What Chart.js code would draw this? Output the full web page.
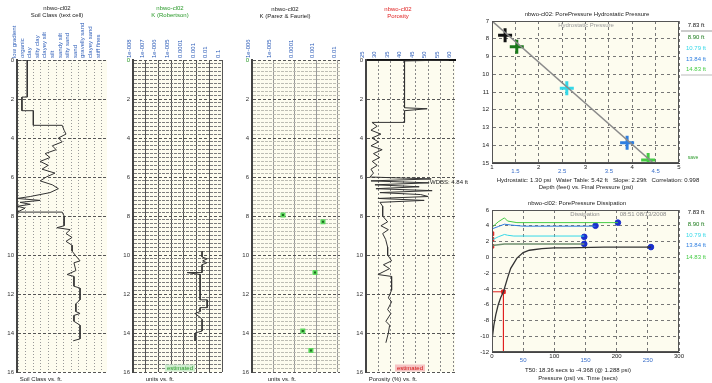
<!DOCTYPE html>
<html>
<head>
<meta charset="utf-8">
<script src="https://cdn.jsdelivr.net/npm/chart.js@4.4.1/dist/chart.umd.min.js"></script>
<style>
  body { margin: 0; background: #fff; width: 712px; height: 383px; overflow: hidden; position: relative; }
  canvas { position: absolute; }
</style>
</head>
<body>
<canvas id="soil" width="118" height="383" style="left:0;top:0"></canvas>
<canvas id="kRob" width="115" height="383" style="left:118px;top:0"></canvas>
<canvas id="kPar" width="120" height="383" style="left:233px;top:0"></canvas>
<canvas id="poro" width="130" height="383" style="left:353px;top:0"></canvas>
<canvas id="hydro" width="237" height="195" style="left:475px;top:0"></canvas>
<canvas id="diss" width="237" height="188" style="left:475px;top:195px"></canvas>
<script>
// ---- data ----
const depthTicks = [0, 2, 4, 6, 8, 10, 12, 14, 16];

const soilClasses = ['low gradient', 'organic', 'clay', 'silty clay', 'clayey silt', 'silt',
  'sandy silt', 'silty sand', 'sand', 'gravelly sand', 'clayey sand', 'stiff fines'];
const soilDepth = [0, 0, 1.9, 1.9, 2.6, 2.6, 3.35, 3.35, 3.6, 3.8, 4.0, 4.2, 4.4, 4.6, 4.8, 5.0, 5.2, 5.4, 5.6, 5.8,
  6.0, 6.2, 6.4, 6.6, 6.8, 7.0, 7.1, 7.2, 7.3, 7.4, 7.5, 7.6, 7.8, 7.8, 8.0, 8.5, 8.6, 8.7, 8.9, 9.1,
  9.3, 9.5, 9.8, 10.0, 10.3, 10.4, 10.8, 11.0, 11.1, 11.6, 11.7, 12.3, 12.5, 12.9, 13.0, 13.1, 13.4, 13.6, 14.3, 14.4];
const soilClass = [-0.1, 1.2, 1.2, 0.5, 0.5, 2.0, 2.0, 5.8, 6.05, 6.3, 5.3, 5.8, 4.5, 5.0, 3.55, 4.2, 2.9, 3.95, 3.15, 4.85,
  3.7, 2.9, 4.5, 5.3, 4.2, 1.6, -0.1, 2.9, 0.25, 1.6, -0.1, 0.9, -0.1, 5.8, 6.05, 6.05, 5.1, 6.85, 6.3, 7.1,
  6.3, 7.1, 7.1, 7.5, 8.15, 7.35, 7.6, 6.45, 7.35, 7.35, 8.15, 8.15, 7.6, 7.6, 8.15, 7.35, 7.35, 8.15, 8.15, 7.25];

const kRobTicks = [1e-8, 1e-7, 1e-6, 1e-5, 1e-4, 1e-3, 1e-2, 1e-1];
const kRobLabels = ['1e-008', '1e-007', '1e-006', '1e-005', '0.0001', '0.001', '0.01', '0.1'];
const kRobDepth = [9.8, 10.1, 10.2, 10.3, 10.4, 10.5, 10.9, 10.9, 11.0, 12.3, 12.3, 12.7, 12.7, 12.9, 13.0, 13.2, 13.3, 13.9, 14.0, 14.4];
const kRobValue = [2.7e-3, 2.7e-3, 6.8e-3, 3.0e-3, 6.5e-3, 2.7e-3, 2.7e-3, 1.8e-4, 1.9e-3, 1.9e-3, 6.8e-3, 6.8e-3, 1.9e-3, 1.9e-3,
  7.6e-4, 1.9e-3, 2.7e-3, 2.7e-3, 7.6e-4, 7.6e-4];

const kParTicks = [1e-6, 1e-5, 1e-4, 1e-3, 1e-2];
const kParLabels = ['1e-006', '1e-005', '0.0001', '0.001', '0.01'];
const kParDepth = [7.95, 8.3, 10.9, 13.9, 14.9];
const kParValue = [2.75e-5, 2.0e-3, 8.5e-4, 2.3e-4, 5.5e-4];

const poroTicks = [25, 30, 35, 40, 45, 50, 55, 60];
const poroDepth = [0, 0, 0.05, 2.45, 2.5, 2.6, 3.2, 3.2, 3.4, 3.6, 3.8, 4.0, 4.2, 4.4, 4.6, 4.8, 5.0, 5.2,
  5.4, 5.6, 5.8, 6.0, 6.1, 6.2, 6.3, 6.4, 6.5, 6.6, 6.7, 6.8, 6.9, 7.0, 7.1, 7.2, 7.3, 7.5, 8.0, 8.3,
  8.5, 8.7, 8.9, 9.2, 9.6, 10.0, 10.3, 10.5, 10.7, 11.0, 11.1, 11.8, 12.2, 12.4, 12.8, 13.0, 13.4, 13.6, 14.0, 14.5];
const poroValue = [25.3, 58.3, 40.5, 40.5, 49.6, 40.5, 40.5, 27.4, 29.5, 27.0, 31.0, 27.4, 30.0, 27.0, 31.5, 28.0, 30.5, 27.5,
  29.5, 27.0, 28.0, 26.6, 51.2, 27.0, 50.4, 28.6, 46.4, 29.0, 51.6, 30.6, 47.0, 50.0, 29.8, 48.4, 30.6, 31.7, 31.7, 33.7,
  31.0, 34.0, 31.7, 32.9, 33.7, 33.7, 35.3, 32.0, 34.5, 29.8, 35.3, 35.3, 34.0, 35.3, 33.7, 35.0, 33.0, 34.5, 34.0, 33.0];

const probeLabels = ['7.83 ft', '8.90 ft', '10.79 ft', '13.84 ft', '14.83 ft'];
const probeColors = ['#111111', '#1a7a1a', '#35d8e8', '#2f7fe0', '#45cc45'];
const hydroPressure = [1.28, 1.53, 2.6, 3.89, 4.34];
const hydroDepth = [7.8, 8.45, 10.79, 13.86, 14.83];
const hydroLineP = [1.0, 4.45];
const hydroLineD = [7.0, 15.0];
const hydroTicks = [1, 1.5, 2, 2.5, 3, 3.5, 4, 4.5, 5];

const dissTicks = [0, 50, 100, 150, 200, 250, 300];
const t783 = [0, 3, 6, 10, 14, 18.36, 25, 30, 40, 50, 60, 80, 100, 120, 180, 255];
const p783 = [-10.5, -8.6, -7.3, -6.0, -5.1, -4.37, -2.6, -1.4, -0.1, 0.6, 0.9, 1.1, 1.2, 1.2, 1.3, 1.3];
const t890 = [0, 10, 20, 148];
const p890 = [1.5, 1.6, 1.7, 1.7];
const t1079 = [0, 10, 20, 25, 35, 148];
const p1079 = [2.2, 2.6, 2.9, 2.8, 2.7, 2.7];
const t1384 = [0, 10, 20, 30, 50, 166];
const p1384 = [3.6, 3.9, 4.2, 4.1, 3.95, 3.95];
const t1483 = [0, 10, 20, 25, 40, 202];
const p1483 = [3.8, 4.5, 5.0, 4.6, 4.4, 4.4];
const endTime = [255, 148, 148, 166, 202];
const endPress = [1.3, 1.7, 2.6, 4.0, 4.4];
const startPress = [1.4, 2.3, 3.0];
const t50Time = 18.36;
const t50Press = -4.368;

// ---- helpers ----
const FONT = '"Liberation Sans", Arial, sans-serif';
Chart.defaults.font.family = FONT;
Chart.defaults.font.size = 6;
Chart.defaults.color = '#222';
Chart.defaults.animation = false;

const pts = (xs, ys) => xs.map((x, i) => ({ x, y: ys[i] }));
const isEven = v => Math.abs(v / 2 - Math.round(v / 2)) < 1e-6;
const fineDepths = Array.from({ length: 81 }, (_, i) => i * 0.2);

function decor(cfg) {
  return {
    id: 'decor',
    beforeDraw(chart) {
      const a = chart.chartArea, c = chart.ctx;
      if (cfg.bg) {
        c.save();
        c.fillStyle = cfg.bg;
        c.fillRect(a.left, a.top, a.right - a.left, a.bottom - a.top);
        c.restore();
      }
    },
    afterDraw(chart) {
      const a = chart.chartArea, c = chart.ctx;
      c.save();
      if (cfg.frame) {
        c.strokeStyle = cfg.frame;
        c.lineWidth = 1;
        c.strokeRect(a.left + 0.5, a.top + 0.5, a.right - a.left - 1, a.bottom - a.top - 1);
      }
      (cfg.rules || []).forEach(r => {
        c.strokeStyle = r.color || '#777';
        c.lineWidth = 1;
        c.beginPath();
        c.moveTo(r.x1 - cfg.ox, r.y1 - cfg.oy);
        c.lineTo(r.x2 - cfg.ox, r.y2 - cfg.oy);
        c.stroke();
      });
      (cfg.boxes || []).forEach(b => {
        c.fillStyle = b.fill;
        c.fillRect(b.x - b.w / 2 - cfg.ox, b.y - b.h / 2 - cfg.oy, b.w, b.h);
        c.fillStyle = b.color;
        c.font = '6px ' + FONT;
        c.textAlign = 'center';
        c.textBaseline = 'middle';
        c.fillText(b.text, b.x - cfg.ox, b.y - cfg.oy);
      });
      (cfg.texts || []).forEach(t => {
        c.fillStyle = t.color || '#222';
        c.font = (t.size || 6) + 'px ' + FONT;
        c.textAlign = t.align || 'center';
        c.textBaseline = 'middle';
        c.fillText(t.text, t.x - cfg.ox, t.y - cfg.oy);
      });
      c.restore();
    }
  };
}

function depthAxis(width, opts) {
  return {
    type: 'linear', min: 0, max: 16, reverse: true,
    afterBuildTicks: s => { s.ticks = (opts.dense ? fineDepths : depthTicks).map(v => ({ value: v })); },
    afterFit: s => { s.width = width; },
    ticks: {
      autoSkip: false, padding: 3,
      color: ctx => (ctx.tick && ctx.tick.value === 0 && opts.zero) ? opts.zero : '#333',
      callback: v => isEven(v) ? String(Math.round(v)) : ''
    },
    grid: {
      drawTicks: false, lineWidth: 1,
      color: ctx => (ctx.tick && isEven(ctx.tick.value)) ? '#555' : (opts.minor || 'rgba(0,0,0,0)')
    },
    border: { display: true, color: '#444', width: 2, dash: ctx => (ctx.tick && isEven(ctx.tick.value)) ? [3, 2] : (opts.minorDash || [3, 1]) }
  };
}

function panel(id, ox, yWidth, padRight, xScale, yOpts, datasets, deco) {
  deco.ox = ox; deco.oy = 0; deco.bg = '#fdfcef';
  return new Chart(document.getElementById(id), {
    type: 'scatter',
    data: { datasets },
    options: {
      responsive: false, devicePixelRatio: 1,
      layout: { padding: { left: 0, right: padRight, top: 0, bottom: 11 } },
      plugins: { legend: { display: false }, tooltip: { enabled: false } },
      scales: { x: xScale, y: depthAxis(yWidth, yOpts) }
    },
    plugins: [decor(deco)]
  });
}

// rotated column labels above each log panel
const rotTicks = extra => Object.assign({
  autoSkip: false, minRotation: 90, maxRotation: 90, padding: 2, labelOffset: 3.5,
  color: '#2c5cb8', font: { size: 6 }
}, extra);

const topAxis = extra => Object.assign({
  position: 'top',
  afterFit: s => { s.height = 60; },
  ticks: rotTicks({}),
  grid: { drawTicks: false, color: '#999' },
  border: { display: false, dash: [1, 2] }
}, extra);

// ---- panel 1: soil class ----
panel('soil', 0, 17, 11,
  topAxis({
    type: 'linear', min: -0.15, max: 11.7,
    afterBuildTicks: s => { s.ticks = soilClasses.map((_, i) => ({ value: i })); },
    ticks: rotTicks({ callback: v => soilClasses[Math.round(v)] })
  }),
  {},
  [{ data: pts(soilClass, soilDepth), showLine: true, borderColor: '#333', borderWidth: 1, pointRadius: 0 }],
  { texts: [
    { text: 'nbwo-cl02', x: 57, y: 8 },
    { text: 'Soil Class (text cell)', x: 57, y: 15 },
    { text: 'Soil Class vs. ft.', x: 41, y: 379 }
  ] });

// ---- panel 2: K (Robertson) ----
panel('kRob', 118, 15, 11,
  topAxis({
    type: 'logarithmic', min: 1e-8, max: 0.1,
    afterBuildTicks: s => { s.ticks = kRobTicks.map(v => ({ value: v })); },
    ticks: rotTicks({ callback: (v, i) => kRobLabels[i] }),
    grid: { drawTicks: false, color: '#555' },
    border: { display: false }
  }),
  { dense: true, zero: '#2a9a2a', minor: '#7c7c7c', minorDash: [3, 1] },
  [{ data: pts(kRobValue, kRobDepth), showLine: true, borderColor: '#333', borderWidth: 1, pointRadius: 0 }],
  { texts: [
    { text: 'nbwo-cl02', x: 170, y: 8, color: '#2a9a2a' },
    { text: 'K (Robertson)', x: 170, y: 15, color: '#2a9a2a' },
    { text: 'units vs. ft.', x: 160, y: 379 }
  ], boxes: [{ text: 'estimated', x: 180, y: 368, w: 30, h: 7, fill: '#cfeecf', color: '#2a9a2a' }] });

// ---- panel 3: K (Parez & Fauriel) ----
panel('kPar', 233, 19, 13,
  topAxis({
    type: 'logarithmic', min: 1e-6, max: 0.0124,
    afterBuildTicks: s => { s.ticks = kParTicks.map(v => ({ value: v })); },
    ticks: rotTicks({ callback: (v, i) => kParLabels[i] }),
    grid: { drawTicks: false, color: '#999' },
    border: { display: false }
  }),
  { dense: true, zero: '#2a9a2a', minor: '#bdbdb4', minorDash: [3, 1] },
  [{ data: pts(kParValue, kParDepth), pointStyle: 'rect', pointRadius: 2.5, pointBackgroundColor: '#1d6b1d',
     pointBorderColor: '#5cd65c', pointBorderWidth: 1.5 }],
  { texts: [
    { text: 'nbwo-cl02', x: 285, y: 9 },
    { text: 'K (Parez & Fauriel)', x: 285, y: 16 },
    { text: 'units vs. ft.', x: 282, y: 379 }
  ] });

// ---- panel 4: porosity ----
panel('poro', 353, 13, 28,
  topAxis({
    type: 'linear', min: 25, max: 60.8,
    afterBuildTicks: s => { s.ticks = poroTicks.map(v => ({ value: v })); },
    ticks: rotTicks({}),
    grid: { drawTicks: false, color: '#888' },
    border: { display: true, color: '#111', width: 2, dash: [2, 2] }
  }),
  {},
  [{ data: pts(poroValue, poroDepth), showLine: true, borderColor: '#333', borderWidth: 1, pointRadius: 0 }],
  { texts: [
    { text: 'nbwo-cl02', x: 398, y: 9, color: '#e02020' },
    { text: 'Porosity', x: 398, y: 16, color: '#e02020' },
    { text: 'Porosity (%) vs. ft.', x: 393, y: 379 },
    { text: 'WDBS: 4.84 ft', x: 449, y: 182 }
  ], boxes: [{ text: 'estimated', x: 410, y: 368, w: 30, h: 7, fill: '#f6c4c4', color: '#d01010' }] });

// ---- hydrostatic pressure ----
new Chart(document.getElementById('hydro'), {
  type: 'scatter',
  data: { datasets: [
    { data: pts(hydroLineP, hydroLineD), showLine: true, borderColor: '#8a8a8a', borderWidth: 1.5, pointRadius: 0 },
    { data: pts(hydroPressure, hydroDepth), pointStyle: 'cross', pointRadius: 7, pointBorderWidth: 3,
      pointBorderColor: probeColors, pointBackgroundColor: probeColors }
  ] },
  options: {
    responsive: false, devicePixelRatio: 1,
    layout: { padding: { left: 0, right: 33, top: 21, bottom: 18 } },
    plugins: { legend: { display: false }, tooltip: { enabled: false } },
    scales: {
      x: {
        type: 'linear', min: 1, max: 5,
        afterBuildTicks: s => { s.ticks = hydroTicks.map(v => ({ value: v })); },
        afterFit: s => { s.height = 14; },
        ticks: { autoSkip: false, maxRotation: 0, padding: 2, font: { size: 6, lineHeight: 0.75 },
          color: ctx => (ctx.tick && !Number.isInteger(ctx.tick.value)) ? '#3a6ec8' : '#222',
          callback: v => Number.isInteger(v) ? String(v) : ['', String(v)] },
        grid: { drawTicks: false, color: '#777' },
        border: { color: '#444', dash: [3, 3] }
      },
      y: {
        type: 'linear', min: 7, max: 15, reverse: true,
        afterFit: s => { s.width = 17; },
        ticks: { stepSize: 1, padding: 3, font: { size: 6 } },
        grid: { drawTicks: false, color: '#777' },
        border: { color: '#444', dash: [3, 3] }
      }
    }
  },
  plugins: [decor({
    ox: 475, oy: 0, bg: '#fdfcef', frame: '#555',
    rules: [
      { x1: 681, y1: 31, x2: 712, y2: 31, color: '#999' },
      { x1: 681, y1: 75, x2: 712, y2: 75, color: '#bbb' }
    ],
    texts: [
      { text: 'nbwo-cl02: PorePressure Hydrostatic Pressure', x: 587, y: 14 },
      { text: 'Hydrostatic Pressure', x: 586, y: 25, color: '#9a9a9a' },
      { text: probeLabels[0], x: 696, y: 25, color: probeColors[0] },
      { text: probeLabels[1], x: 696, y: 37, color: probeColors[1] },
      { text: probeLabels[2], x: 696, y: 48, color: probeColors[2] },
      { text: probeLabels[3], x: 696, y: 59, color: probeColors[3] },
      { text: probeLabels[4], x: 696, y: 69, color: probeColors[4] },
      { text: 'save', x: 693, y: 158, color: '#2a9a2a', size: 5 },
      { text: 'Hydrostatic: 1.30 psi   Water Table: 5.42 ft   Slope: 2.29ft   Correlation: 0.998', x: 598, y: 180 },
      { text: 'Depth (feet) vs. Final Pressure (psi)', x: 586, y: 187 }
    ]
  })]
});

// ---- dissipation ----
const lineDs = (t, p, color, w) => ({ data: pts(t, p), showLine: true, borderColor: color, borderWidth: w || 1, pointRadius: 0 });
new Chart(document.getElementById('diss'), {
  type: 'scatter',
  data: { datasets: [
    lineDs(t890, p890, '#6f8f6f', 1.5),
    lineDs(t1079, p1079, probeColors[2]),
    lineDs(t1384, p1384, probeColors[3]),
    lineDs(t1483, p1483, probeColors[4]),
    lineDs(t783, p783, '#333', 1.3),
    lineDs([0, t50Time, t50Time], [t50Press, t50Press, -12], '#e02020'),
    { data: pts(endTime, endPress), pointStyle: 'circle', pointRadius: 2.8, pointBackgroundColor: '#1a2fcc', pointBorderColor: '#1a2fcc' },
    { data: pts(startPress.map(() => 0).concat([t50Time]), startPress.concat([t50Press])), pointStyle: 'rect', pointRadius: 2.5,
      pointBackgroundColor: '#e02020', pointBorderColor: '#e02020' }
  ] },
  options: {
    responsive: false, devicePixelRatio: 1,
    layout: { padding: { left: 0, right: 33, top: 15, bottom: 17 } },
    plugins: { legend: { display: false }, tooltip: { enabled: false } },
    scales: {
      x: {
        type: 'linear', min: 0, max: 300,
        afterBuildTicks: s => { s.ticks = dissTicks.map(v => ({ value: v })); },
        afterFit: s => { s.height = 14; },
        ticks: { autoSkip: false, maxRotation: 0, padding: 2, font: { size: 6, lineHeight: 0.75 },
          color: ctx => (ctx.tick && ctx.tick.value % 100 !== 0) ? '#3a6ec8' : '#222',
          callback: v => v % 100 === 0 ? String(v) : ['', String(v)] },
        grid: { drawTicks: false, color: '#777' },
        border: { color: '#444', dash: [3, 3] }
      },
      y: {
        type: 'linear', min: -12, max: 6,
        afterFit: s => { s.width = 17; },
        ticks: { stepSize: 2, padding: 3, font: { size: 6 } },
        grid: { drawTicks: false, color: '#777' },
        border: { color: '#444', dash: [3, 3] }
      }
    }
  },
  plugins: [decor({
    ox: 475, oy: 195, bg: '#fdfcef', frame: '#555',
    texts: [
      { text: 'nbwo-cl02: PorePressure Dissipation', x: 577, y: 203 },
      { text: 'Dissipation', x: 585, y: 214, color: '#8a8a8a' },
      { text: '08:51 08/13/2008', x: 643, y: 214, color: '#8a8a8a' },
      { text: probeLabels[0], x: 696, y: 212, color: probeColors[0] },
      { text: probeLabels[1], x: 696, y: 224, color: probeColors[1] },
      { text: probeLabels[2], x: 696, y: 235, color: probeColors[2] },
      { text: probeLabels[3], x: 696, y: 245, color: probeColors[3] },
      { text: probeLabels[4], x: 696, y: 257, color: probeColors[4] },
      { text: 'T50: 18.36 secs to -4.368 (@ 1.288 psi)', x: 578, y: 370 },
      { text: 'Pressure (psi) vs. Time (secs)', x: 578, y: 378 }
    ]
  })]
});
</script>
</body>
</html>
